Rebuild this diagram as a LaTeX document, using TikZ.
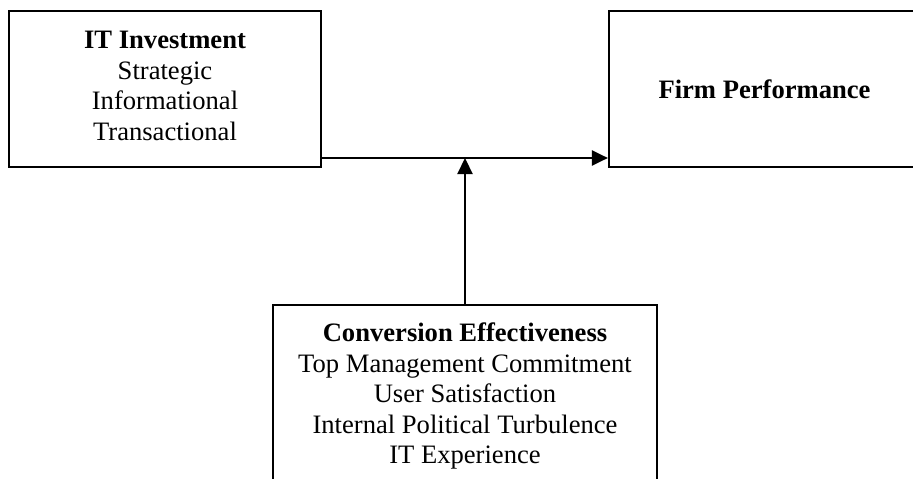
\documentclass[tikz,border=0pt]{standalone}
\usepackage{fontspec}
\setmainfont{Liberation Serif}
\usetikzlibrary{arrows.meta}
\begin{document}
\begin{tikzpicture}[x=1pt,y=-1pt,
  box/.style={draw, line width=2.2pt, inner sep=0pt, align=center,
    font=\fontsize{26.6}{30.5}\selectfont},
  arr/.style={line width=2.2pt, -{Triangle[length=16pt,width=15pt]}}]
\useasboundingbox (0,0) rectangle (913,479);
\clip (0,0) rectangle (913,479);
\fill[white] (0,0) rectangle (913,479);
\node[box, minimum width=312pt, minimum height=156pt] (inv) at (165,89)
  {\textbf{IT Investment}\\Strategic\\Informational\\Transactional\rule[-6pt]{0pt}{0pt}};
\node[box, minimum width=311pt, minimum height=156pt] (perf) at (764.5,89)
  {\textbf{Firm Performance}};
\node[box, anchor=north, minimum width=384pt, inner ysep=18pt] (conv) at (465,304)
  {\textbf{Conversion Effectiveness}\\Top Management Commitment\\User Satisfaction\\Internal Political Turbulence\\IT Experience};
\coordinate (mid) at (465,158);
\draw[arr] (inv.east |- mid) -- (perf.west |- mid);
\draw[arr] (conv.north) -- (mid);
\end{tikzpicture}
\end{document}
